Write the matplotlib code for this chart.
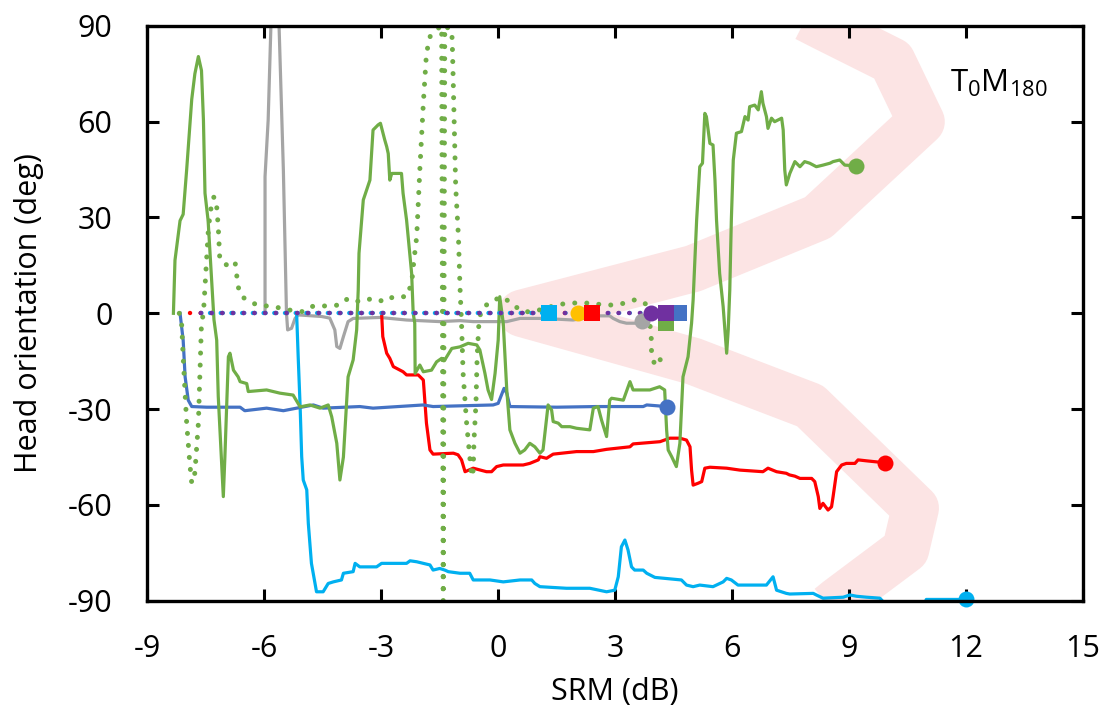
import matplotlib
matplotlib.use("Agg")
import matplotlib.pyplot as plt

plt.rcParams['font.family'] = ['Open Sans', 'DejaVu Sans']
plt.rcParams['axes.unicode_minus'] = False
plt.rcParams['mathtext.fontset'] = 'custom'
plt.rcParams['mathtext.rm'] = 'Open Sans'
plt.rcParams['mathtext.it'] = 'Open Sans'

# ---- data ----
x_ticks = [-9, -6, -3, 0, 3, 6, 9, 12, 15]
y_ticks = [-90, -60, -30, 0, 30, 60, 90]

# model prediction band
band_x = [7.9, 8.3, 10.1, 10.85, 8.2, 5.0, 0.6, 5.0, 8.0, 10.7, 10.45, 8.7, 8.5]
band_y = [92.5, 90, 79, 60, 30, 14, 0, -15, -29, -61, -74, -90, -92]

green_x = [-8.33, -8.29, -8.16, -8.08, -7.99, -7.86, -7.78, -7.69, -7.61, -7.56, -7.52, -7.44,
           -7.35, -7.29, -7.22, -7.18, -7.05, -7.01, -6.92, -6.88, -6.79, -6.67, -6.62, -6.45,
           -6.41, -5.94, -5.60, -5.26, -5.08, -4.83, -4.57, -4.36, -4.27, -4.14, -4.06, -3.97,
           -3.85, -3.72, -3.63, -3.59, -3.57, -3.46, -3.29, -3.21, -3.08, -3.02, -2.91, -2.86,
           -2.82, -2.78, -2.73, -2.48, -2.44, -2.35, -2.22, -2.18, -2.14, -2.13, -2.01, -1.92,
           -1.71, -1.58, -1.45, -1.37, -1.19, -0.98, -0.77, -0.55, -0.47, -0.34, -0.26, -0.17,
           -0.08, 0.0, 0.04, 0.13, 0.22, 0.30, 0.43, 0.56, 0.68, 0.81, 0.94, 1.07, 1.15, 1.28,
           1.37, 1.41, 1.54, 1.63, 1.84, 2.01, 2.35, 2.44, 2.56, 2.65, 2.78, 2.86, 2.91, 3.21,
           3.38, 3.46, 3.63, 3.89, 4.14, 4.27, 4.32, 4.36, 4.45, 4.57, 4.66, 4.74, 4.87, 4.96,
           5.00, 5.09, 5.17, 5.24, 5.30, 5.34, 5.43, 5.51, 5.56, 5.60, 5.68, 5.77, 5.86, 5.90,
           5.94, 5.98, 6.03, 6.11, 6.24, 6.33, 6.41, 6.45, 6.58, 6.67, 6.75, 6.79, 6.88, 6.92,
           7.01, 7.09, 7.27, 7.31, 7.35, 7.39, 7.48, 7.61, 7.74, 7.86, 7.99, 8.16, 8.33, 8.51,
           8.59, 8.76, 8.89, 9.19]
green_y = [0, 16.6, 29, 31, 45, 67, 75, 80.4, 76, 60.5, 37.6, 29,
           10.4, -2, -8.4, -26, -57.4, -45, -13.6, -12.5, -17.8, -19.9, -21.4, -22,
           -24.5, -24, -25, -25.6, -29.3, -28.7, -29.7, -28.7, -32.4, -40.7, -52.2, -45,
           -19.9, -14.6, -5.2, 7.3, 18.8, 35.5, 41.7, 57.4, 59, 59.5, 54.3, 52.2,
           50, 41.7, 43.8, 43.8, 37.6, 29.2, 12.5, 0, -3.1, -18.8, -16.2, -18.3,
           -17.8, -15.2, -14.1, -14.6, -11, -10.5, -9.4, -9.9, -11.5, -18.8, -24, -27,
           -18.8, -8.4, 5.2, -3.1, -24, -36.5, -40.7, -43.8, -42.8, -40.7, -41.8, -43.8, -42.8, -28.7,
           -30.3, -33.9, -34.4, -35.5, -35.5, -36, -36.5, -29.7, -29.2, -33.4, -38.6, -27.2, -26.6, -27.2,
           -21.4, -24, -24, -24, -23, -24, -36.5, -42.8, -44.9, -48, -40.7, -19.9, -13.6, -3.1,
           4.2, 29.2, 45.9, 47, 62.6, 61.6, 53.2, 52.7, 41.7, 29.2, 12.5, 2.1, -12.5, -5.2,
           7.3, 29.2, 48, 56.4, 56.9, 61.6, 60.5, 64.7, 65.2, 63.7, 69.4, 65.8, 61.6, 57.9,
           61.1, 60, 61.1, 57.4, 44.9, 40.2, 43.8, 47.5, 45.9, 47.5, 47, 45.9, 46.4, 47,
           47.5, 48, 46.4, 46.2]

blue_x = [-8.16, -8.08, -8.03, -7.95, -7.86, -7.48, -6.62, -6.50, -5.94, -5.51, -5.17, -4.74,
          -4.49, -3.55, -3.21, -1.92, -1.67, -0.13, 0.0, 0.15, 0.22, 0.30, 1.5, 2.5, 3.72, 3.81, 4.32]
blue_y = [0, -8.4, -19.9, -27.2, -29.2, -29.4, -29.4, -30.5, -29.7, -30.5, -29.7, -28.7,
          -29.7, -29.2, -29.7, -28.7, -29.2, -28.7, -28.2, -23.5, -25, -29.2, -29.4, -29.2, -29.2, -28.7, -29.2]

cyan_x = [-5.17, -5.13, -5.08, -5.04, -5.00, -4.91, -4.87, -4.79, -4.66, -4.49, -4.36, -4.23,
          -4.02, -3.97, -3.72, -3.67, -3.55, -3.12, -2.99, -2.35, -2.26, -2.09, -1.75, -1.67,
          -1.50, -1.37, -1.28, -0.98, -0.73, -0.64, -0.21, 0.13, 0.56, 0.86, 0.94, 1.07, 1.75,
          2.35, 2.78, 2.99, 3.08, 3.16, 3.25, 3.33, 3.42, 3.50, 3.72, 3.81, 4.02, 4.70, 4.83,
          5.00, 5.17, 5.51, 5.77, 5.86, 5.98, 6.15, 6.88, 7.05, 7.14, 7.39, 7.48, 8.08, 8.16,
          8.33, 8.85, 9.02, 9.19, 9.45, 9.79, 10.0, 10.9, 10.98, 12.01]
cyan_y = [0, -13.6, -29.2, -44.9, -52.2, -55.3, -65.8, -78.3, -87.2, -87.2, -84.6, -84.1,
          -83.5, -81.4, -80.9, -78.3, -79.4, -79.4, -78.3, -78.3, -77.5, -77.8, -78.8, -80.4,
          -79.9, -80.4, -80.9, -81.4, -81.4, -83.5, -83.5, -84.1, -83.5, -83.5, -84.6, -85.6, -86.1,
          -86.1, -87.2, -86.7, -82.5, -73.1, -71, -74.1, -79.4, -80.4, -80.4, -81.4, -82.7, -83.5, -85.1,
          -85.6, -85.1, -85.6, -84.1, -83.0, -83.5, -85.1, -85.1, -82.5, -86.7, -87.7, -87.9, -87.7, -88.2,
          -89.2, -88.9, -88.2, -88.6, -88.9, -89.2, -92, -92, -89.6, -89.6]

red_x = [-2.99, -2.96, -2.86, -2.78, -2.69, -2.44, -2.35, -2.05, -1.92, -1.84, -1.75, -1.67,
         -1.15, -1.03, -0.94, -0.85, -0.64, -0.30, -0.17, -0.04, 0.13, 0.64, 0.81, 1.03, 1.07,
         1.24, 1.41, 2.01, 2.44, 2.78, 3.38, 3.46, 4.15, 4.40, 4.66, 4.83, 4.92, 4.96, 5.00,
         5.13, 5.22, 5.30, 5.43, 5.86, 6.20, 6.79, 6.92, 7.14, 7.39, 7.47, 7.61, 7.74, 8.04,
         8.12, 8.21, 8.25, 8.33, 8.46, 8.55, 8.59, 8.68, 8.81, 8.93, 9.15, 9.23, 9.45, 9.92]
red_y = [0, -7.3, -12.5, -14.1, -16.7, -18.3, -19.3, -19.3, -20.9, -34.4, -42.8, -44.1,
         -43.8, -44.3, -45.9, -49.6, -48.5, -49.6, -49.6, -48, -47.5, -47.5, -47, -45.9, -44.9,
         -45.4, -44.1, -43.3, -43.3, -42.6, -41.8, -40.9, -40.2, -39.1, -39.1, -39.7, -41.8, -49.1, -53.8,
         -53.2, -52.7, -48.5, -48.2, -48.5, -49.1, -49.6, -48.5, -49.6, -50.1, -50.6, -51, -51.7, -51.7,
         -52.7, -57.4, -61.1, -59.5, -61.6, -60.6, -57.4, -49.6, -47.5, -47, -47, -45.9, -46.2, -46.8]

gray_x = [-5.98, -5.98, -5.90, -5.83, -5.74, -5.62, -5.51, -5.43, -5.40, -5.30, -5.21, -5.13,
          -4.53, -4.32, -4.19, -4.14, -4.06, -3.97, -3.85, -3.72, -3.03, -2.35, -1.50, -0.98,
          -0.64, 0.22, 0.56, 1.15, 1.92, 2.61, 2.86, 2.95, 3.12, 3.29, 3.55, 3.70]
gray_y = [0, 42.8, 60.5, 89.8, 100, 89.8, 44.9, 0, -5.2, -4.7, -1.6, -0.5,
          -1, -1.5, -5.2, -10.4, -11, -7.3, -2.6, -1.6, -1.3, -2.1, -2.6, -2.3,
          -2.6, -2.6, -1.6, -1.6, -2.1, -0.8, -0.8, -1.6, -2.6, -3.1, -3.1, -2.3]

green_dot_x = [-8.18, -8.12, -8.08, -7.99, -7.91, -7.86, -7.78, -7.69, -7.65, -7.61, -7.56, -7.52,
               -7.48, -7.44, -7.39, -7.35, -7.29, -7.22, -7.18, -7.14, -6.96, -6.75, -6.67, -6.58,
               -6.19, -5.77, -5.34, -5.00, -4.74, -4.40, -4.06, -3.85, -3.55, -3.21, -2.91, -2.69,
               -2.35, -2.22, -2.16, -2.09, -2.01, -1.92, -1.84, -1.75, -1.62, -1.49, -1.45, -1.41,
               -1.37, -1.19, -1.17, -1.15, -1.12, -1.09, -1.02, -0.98, -0.94, -0.90, -0.81, -0.73,
               -0.68, -0.64, -0.62, -0.57, -0.54, -0.49, -0.43, -0.26, -0.13, 0.04, 0.22, 0.38,
               0.64, 0.90, 1.50, 1.75, 2.09, 2.44, 2.69, 2.95, 3.21, 3.50, 3.72, 3.85, 3.89, 3.93,
               3.93, 3.97, 4.02, 4.15, 4.27]
green_dot_y = [0, -3.1, -13.6, -34.4, -47, -53.2, -50, -34.4, -18.8, -3.1, 0, 8.3,
               16.7, 25, 31.3, 33.9, 36.5, 33.4, 27.1, 16.7, 15.1, 16.2, 8.3, 5.2,
               2.6, 2.1, 1, 0.5, 2.3, 2.3, 2.6, 4.7, 3.6, 4.7, 3.6, 5.2,
               5.2, 9.4, 16.7, 24, 44.9, 65.8, 81.4, 86.6, 88.2, 89.8, 90, -90,
               90, 88.6, 81.4, 71, 55.3, 39.6, 24, 8.3, -3.1, -18.8, -34.4, -44.9,
               -51.2, -49.1, -39.7, -28.2, -13.6, -2.1, 1, 3.1, 3.6, 5.2, 4.2, 2.6,
               0.5, 0.5, 2.6, 3.1, 3.3, 3.1, 2.6, 2.6, 3.1, 4.2, 3.6, 2.1, -3.1, -8.4,
               -11.5, -14.1, -16.5, -14.6, -13]

# fixed-head conditions (dotted at 0 deg)
red_fix_x, red_fix_y = [-7.91, 2.41], [0, 0]
blue_fix_x, blue_fix_y = [-7.75, 4.64], [0, 0]
purple_fix_x, purple_fix_y = [-7.70, 4.30], [0, 0]
cyan_fix_x, cyan_fix_y = [-7.60, 1.31], [0, 0]

orange_end = (2.05, 0)
purple_end = (3.91, 0)
green_dot_end = (4.30, -3.1)

# ---- figure ----
fig = plt.figure(figsize=(11.05, 7.11), dpi=100)
ax = fig.add_axes([0.1333, 0.1551, 0.8468, 0.8085])

ax.plot(band_x, band_y, color='#FCE4E4', lw=34, solid_joinstyle='round',
        solid_capstyle='butt', zorder=1)

C_GREEN = '#70AD47'
C_BLUE = '#4472C4'
C_CYAN = '#00B0F0'
C_RED = '#FF0000'
C_GRAY = '#A5A5A5'
C_PURPLE = '#7030A0'
C_ORANGE = '#FFC000'

lw = 2.3
ax.plot(gray_x, gray_y, color=C_GRAY, lw=lw, zorder=2)
ax.plot(cyan_x, cyan_y, color=C_CYAN, lw=lw, zorder=2)
ax.plot(red_x, red_y, color=C_RED, lw=lw, zorder=2)
ax.plot(blue_x, blue_y, color=C_BLUE, lw=lw, zorder=2)
ax.plot(green_x, green_y, color=C_GREEN, lw=lw, zorder=2)

ax.plot(green_dot_x, green_dot_y, color=C_GREEN, lw=3.6,
        linestyle=(0, (0.01, 2.4)), dash_capstyle='round', zorder=3)

dot_w = 3.2
for (xs, ys, c, off) in [(red_fix_x, red_fix_y, C_RED, 0.0),
                          (cyan_fix_x, cyan_fix_y, C_CYAN, 0.6),
                          (blue_fix_x, blue_fix_y, C_BLUE, 1.2),
                          (purple_fix_x, purple_fix_y, C_PURPLE, 1.8)]:
    ax.plot(xs, ys, color=c, lw=dot_w, linestyle=(off, (0.01, 2.4)),
            dash_capstyle='round', zorder=4)

ms = 11.5
def end_marker(x, y, color, marker, z):
    ax.plot([x], [y], marker=marker, ms=ms, color=color, mew=0, zorder=z, clip_on=False)

end_marker(gray_x[-1], gray_y[-1], C_GRAY, 'o', 5)
end_marker(orange_end[0], orange_end[1], C_ORANGE, 'o', 5)
end_marker(blue_fix_x[-1], blue_fix_y[-1], C_BLUE, 's', 5)
end_marker(green_dot_end[0], green_dot_end[1], C_GREEN, 's', 5)
end_marker(cyan_fix_x[-1], cyan_fix_y[-1], C_CYAN, 's', 5)
end_marker(red_fix_x[-1], red_fix_y[-1], C_RED, 's', 6)
end_marker(purple_end[0], purple_end[1], C_PURPLE, 'o', 6)
end_marker(purple_fix_x[-1], purple_fix_y[-1], C_PURPLE, 's', 7)
end_marker(blue_x[-1], blue_y[-1], C_BLUE, 'o', 6)
end_marker(red_x[-1], red_y[-1], C_RED, 'o', 6)
end_marker(green_x[-1], green_y[-1], C_GREEN, 'o', 6)
end_marker(cyan_x[-1], cyan_y[-1], C_CYAN, 'o', 6)

ax.set_xlim(-9, 15)
ax.set_ylim(-90, 90)
ax.set_xticks(x_ticks)
ax.set_yticks(y_ticks)
ax.set_xticklabels([str(v) for v in x_ticks])
ax.set_yticklabels([str(v) for v in y_ticks])

for s in ax.spines.values():
    s.set_linewidth(2.4)
    s.set_zorder(8)
ax.tick_params(direction='in', length=8.5, width=2.2, top=True, right=True,
               labelsize=22, colors='black')
ax.tick_params(axis='y', pad=25)
ax.tick_params(axis='x', pad=24)

ax.set_xlabel('SRM (dB)', fontsize=22, labelpad=9)
ax.set_ylabel('Head orientation (deg)', fontsize=22, labelpad=17)

ax.text(0.858, 0.8855, r'$\mathrm{T_0M_{180}}$', transform=ax.transAxes,
        fontsize=22.5, ha='left', va='baseline')

fig.savefig('out.png', dpi=100)
